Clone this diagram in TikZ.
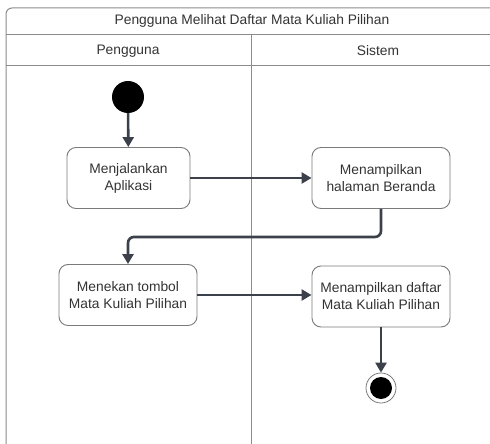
\documentclass[tikz,border=0pt]{standalone}
\usepackage{fontspec}
\setmainfont{Liberation Sans}
\usetikzlibrary{arrows.meta}

\definecolor{lanegray}{HTML}{8C8C8C}
\definecolor{boxgray}{HTML}{7A7A7A}
\definecolor{flowgray}{HTML}{3B404A}
\definecolor{textgray}{HTML}{333333}

\begin{document}
\begin{tikzpicture}[
	x=1pt, y=-1pt,
	lane/.style = {draw=lanegray, line width=1pt},
	lanetext/.style = {text=textgray, font=\fontsize{13.8}{16}\selectfont},
	action/.style = {draw=boxgray, line width=0.9pt, rounded corners=9pt,
		minimum height=61pt, align=center, text=textgray,
		font=\fontsize{13.8}{17}\selectfont},
	flow/.style = {draw=flowgray, line width=2.6pt, rounded corners=6pt,
		-{Triangle[length=10pt,width=11pt]}}
	]
	\useasboundingbox (0,0) rectangle (490,444);
	\clip (0,0) rectangle (490,444);

	% swimlane frame
	\draw[lane, rounded corners=6pt] (6,450) -- (6,8) -- (500,8);
	\draw[lane] (6,35) -- (500,35);
	\draw[lane] (6,66) -- (500,66);
	\draw[lane] (251,35) -- (251,450);

	\node[lanetext] (title) at (252,21) {Pengguna Melihat Daftar Mata Kuliah Pilihan};
	\node[lanetext] (pengguna) at (128,51) {Pengguna};
	\node[lanetext] (sistem) at (378,51) {Sistem};

	% activities
	\node[circle, fill=black, minimum size=32pt, inner sep=0pt] (start) at (128,97) {};
	\node[action, minimum width=123pt] (jalankan) at (128.5,178) {Menjalankan\\Aplikasi};
	\node[action, minimum width=138pt] (beranda) at (381,178) {Menampilkan\\halaman Beranda};
	\node[action, minimum width=138pt] (tombol) at (128,295) {Menekan tombol\\Mata Kuliah Pilihan};
	\node[action, minimum width=138pt] (daftar) at (381,296.5) {Menampilkan daftar\\Mata Kuliah Pilihan};
	\node[circle, draw=boxgray, line width=0.8pt, minimum size=30pt, inner sep=0pt] (finish) at (381,388) {};
	\node[circle, fill=black, minimum size=22pt, inner sep=0pt] (finishdot) at (finish) {};

	\draw[flow] (start) -- (jalankan);
	\draw[flow] (jalankan) -- (beranda);
	\draw[flow] (beranda.south) -- ++(0,28) -| (tombol.north);
	\draw[flow] (tombol) -- (tombol -| daftar.west);
	\draw[flow] (daftar) -- (finish);
\end{tikzpicture}
\end{document}
